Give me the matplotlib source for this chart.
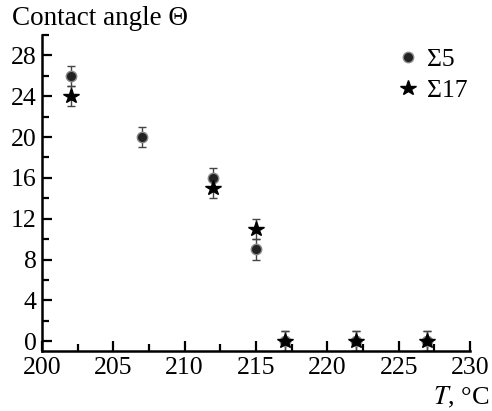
import matplotlib
matplotlib.use("Agg")
import matplotlib.pyplot as plt
from matplotlib.ticker import MultipleLocator

# data
t_s5 = [202, 207, 212, 215, 217, 222, 227]
theta_s5 = [26, 20, 16, 9, 0, 0, 0]
t_s17 = [202, 212, 215, 217, 222, 227]
theta_s17 = [24, 15, 11, 0, 0, 0]
err = 1.0

plt.rcParams["font.family"] = ["Liberation Serif", "DejaVu Serif"]
plt.rcParams["mathtext.fontset"] = "stix"
FS = 18.5

fig = plt.figure(figsize=(4.92, 4.11), dpi=100)
ax = fig.add_axes([0.0854, 0.1448, 0.8699, 0.7702])

ax.errorbar(t_s5, theta_s5, yerr=err, fmt="none", ecolor="#444444",
            elinewidth=1.0, capsize=3, capthick=1.0, zorder=2)
ax.errorbar(t_s17, theta_s17, yerr=err, fmt="none", ecolor="#444444",
            elinewidth=1.0, capsize=3, capthick=1.0, zorder=2)
ax.plot(t_s5, theta_s5, "o", ms=7.5, mfc="#222222", mec="#888888", mew=1.0,
        ls="none", label="Σ5", zorder=3)
ax.plot(t_s17, theta_s17, "*", ms=11.5, mfc="black", mec="black",
        ls="none", label="Σ17", zorder=4)

ax.set_xlim(200, 230)
ax.set_ylim(-1, 30)
ax.xaxis.set_major_locator(MultipleLocator(5))
ax.xaxis.set_minor_locator(MultipleLocator(2.5))
ax.set_yticks([0, 4, 8, 12, 16, 20, 24, 28])
ax.yaxis.set_minor_locator(MultipleLocator(2))
ax.tick_params(which="major", direction="in", length=7, width=1.6, labelsize=FS, pad=4)
ax.tick_params(which="minor", direction="in", length=5, width=1.6)
for s in ["top", "right"]:
    ax.spines[s].set_visible(False)
for s in ["left", "bottom"]:
    ax.spines[s].set_linewidth(1.8)

ax.legend(loc="upper right", bbox_to_anchor=(1.048, 1.032), frameon=False,
          fontsize=FS, handlelength=1.0, handletextpad=0.25, labelspacing=0.3)

fig.text(0.024, 0.955, "Contact angle Θ", fontsize=19.5, ha="left", va="center")
fig.text(0.995, 0.032, "$T$, °C", fontsize=19, ha="right", va="center")

fig.savefig("out.png", dpi=100)
